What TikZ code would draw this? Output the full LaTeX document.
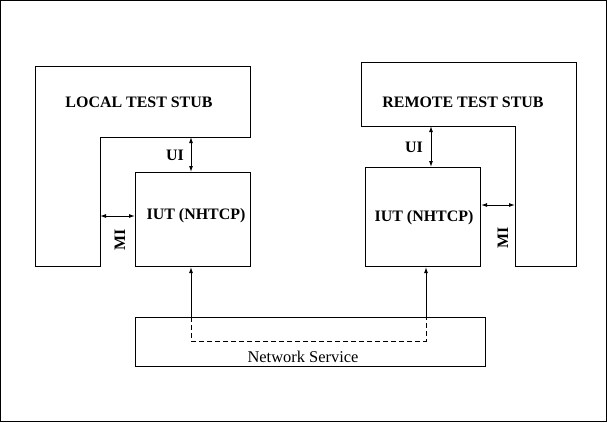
\documentclass[tikz,border=0pt]{standalone}
\usepackage{fontspec}
\setmainfont{Liberation Serif}
\usetikzlibrary{arrows.meta}
\begin{document}
\begin{tikzpicture}[x=1bp,y=-1bp,line width=1bp,
  lbl/.style={font=\fontsize{16}{19}\selectfont\bfseries,inner sep=0pt},
  nlbl/.style={font=\fontsize{16.5}{19}\selectfont,inner sep=0pt},
  box/.style={draw,inner sep=0pt,minimum width=115bp},
  dbl/.style={{Latex[length=6bp,width=4bp]}-{Latex[length=6bp,width=4bp]}},
  up/.style={-{Latex[length=6bp,width=4bp]}}]
\useasboundingbox (0,0) rectangle (607,422);
\draw (0.5,0.5) rectangle (606.5,421.5);
% local stub
\draw (35,66) -- (250,66) -- (250,137) -- (100,137) -- (100,266) -- (35,266) -- cycle;
\node[lbl] (lts) at (139,102) {LOCAL TEST STUB};
\node[box,minimum height=94bp,anchor=north west] (liut) at (135,172) {};
\node[lbl] at (196,216) {IUT (NHTCP)};
\coordinate (lui) at (191,137);
\coordinate (lmi) at (100,216);
\draw[dbl] (lui) -- (lui |- liut.north);
\draw[dbl] (lmi) -- (lmi -| liut.west);
\node[lbl] (luil) at (175,155) {UI};
\node[lbl,rotate=90] (lmil) at (120,240) {MI};
% remote stub
\draw (361,62) -- (576,62) -- (576,266) -- (515,266) -- (515,126) -- (361,126) -- cycle;
\node[lbl] (rts) at (463,102) {REMOTE TEST STUB};
\node[box,minimum height=99bp,anchor=north west] (riut) at (365,167) {};
\node[lbl] at (424,218) {IUT (NHTCP)};
\coordinate (rui) at (431,126);
\coordinate (rmi) at (515,205);
\draw[dbl] (rui) -- (rui |- riut.north);
\draw[dbl] (rmi) -- (rmi -| riut.east);
\node[lbl] (ruil) at (414,147) {UI};
\node[lbl,rotate=90] (rmil) at (503,238) {MI};
% network
\node[draw,inner sep=0pt,minimum width=350bp,minimum height=49bp,anchor=north west] (net) at (135,317) {};
\node[nlbl] (netl) at (303,357) {Network Service};
\coordinate (na) at (191,317);
\coordinate (nb) at (426,317);
\draw[up] (na) -- (na |- liut.south);
\draw[up] (nb) -- (nb |- riut.south);
\draw[dashed,dash pattern=on 5bp off 3bp] (na) -- (191,341) -- (426,341) -- (nb);
\end{tikzpicture}
\end{document}
